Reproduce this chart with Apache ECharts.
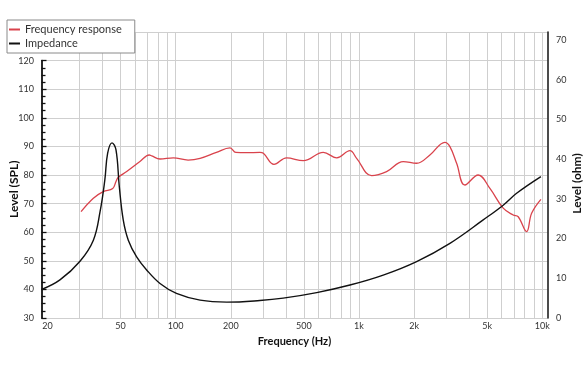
<!DOCTYPE html>
<html>
<head>
<meta charset="utf-8">
<script src="https://cdn.jsdelivr.net/npm/echarts@6/dist/echarts.min.js"></script>
<style>
html,body{margin:0;padding:0;background:#fff;}
#c{width:588px;height:372px;}
</style>
</head>
<body>
<div id="c"></div>
<script>
// Frequency response (dB SPL)
const freqSPL = [30.5, 35.6, 40.3, 45.4, 47.3, 48.7, 54.1, 63.9, 71.8, 74.1, 82.2, 97.1, 117, 136, 167, 198, 213, 244, 288, 301, 344, 403, 497, 639, 756, 893, 971, 1172, 1415, 1743, 2062, 2437, 2942, 3133, 3408, 3782, 4470, 5178, 6117, 6937, 7386, 8207, 8740, 9822];
const splValues = [67.2, 71.9, 74.2, 75.3, 77.7, 79.2, 81.2, 84.7, 87.0, 86.7, 85.6, 86.0, 85.2, 85.8, 87.9, 89.5, 87.9, 87.8, 87.9, 87.6, 83.7, 86.0, 85.0, 87.9, 86.0, 88.5, 85.8, 79.8, 81.2, 84.7, 84.1, 87.0, 91.4, 89.9, 84.1, 76.5, 80.0, 75.3, 68.4, 66.0, 65.4, 60.2, 66.6, 71.5];
// Impedance (ohm)
const freqZ = [18.6, 23.4, 30.1, 35.6, 38.7, 41.1, 42.6, 45.0, 47.3, 49.3, 51.8, 55.2, 61.3, 69.5, 82.2, 101, 136, 190, 288, 386, 588, 893, 1356, 2062, 3133, 4759, 6117, 7238, 9822];
const zValues = [7.2, 9.6, 14.3, 19.6, 26.7, 34.7, 41.5, 44.1, 42.3, 33.1, 24.7, 19.6, 15.4, 12.1, 8.7, 6.2, 4.5, 4.0, 4.4, 5.0, 6.4, 8.3, 10.8, 14.2, 18.8, 24.7, 28.4, 31.4, 35.6];
// Axis ticks
const xLabelValues = [20, 50, 100, 200, 500, 1000, 2000, 5000, 10000];
const xGridValues = [30, 40, 50, 60, 70, 80, 90, 100, 200, 300, 400, 500, 600, 700, 800, 900, 1000, 2000, 3000, 4000, 5000, 6000, 7000, 8000, 9000, 10000];
const xMin = 18.56, xMax = 10670;

const FONT = 'Lato';
const chart = echarts.init(document.getElementById('c'), null, {renderer: 'canvas'});

const option = {
  animation: false,
  backgroundColor: '#fff',
  textStyle: {fontFamily: FONT},
  grid: [
    {left: 41.5, right: 40.5, top: 32, bottom: 54, containLabel: false, outerBoundsMode: 'none'},
    {left: 41.5, right: 40.5, top: 60.6, bottom: 54, containLabel: false, outerBoundsMode: 'none'}
  ],
  legend: {
    data: ['Frequency response', 'Impedance'],
    orient: 'vertical',
    left: 7, top: 20,
    icon: 'rect', itemWidth: 11, itemHeight: 2, itemGap: 3,
    padding: [4, 13, 4, 2],
    backgroundColor: '#fff',
    borderColor: '#8a8a8a', borderWidth: 1,
    textStyle: {fontFamily: FONT, fontSize: 11, color: '#333'}
  },
  xAxis: [
    {
      type: 'log', gridIndex: 0, min: xMin, max: xMax,
      axisLine: {show: false}, axisTick: {show: false},
      splitLine: {show: false}, minorSplitLine: {show: false},
      axisLabel: {
        customValues: xLabelValues,
        fontFamily: FONT, fontSize: 9, color: '#333', margin: 4,
        formatter: v => v >= 1000 ? (v / 1000) + 'k' : String(v)
      },
      name: 'Frequency (Hz)', nameLocation: 'middle', nameGap: 18, nameMoveOverlap: false,
      nameTextStyle: {fontFamily: FONT, fontSize: 11, fontWeight: 'bold', color: '#111'}
    },
    {
      type: 'value', gridIndex: 1, min: 0, max: 1, show: false
    }
  ],
  yAxis: [
    {
      type: 'value', gridIndex: 0, min: 30, max: 130, interval: 10,
      axisLine: {show: false}, axisTick: {show: false}, axisLabel: {show: false},
      splitLine: {show: true, lineStyle: {color: '#cfcfcf', width: 1}}
    },
    {
      type: 'value', gridIndex: 0, position: 'right', min: 0, max: 72, interval: 10,
      axisLine: {show: true, lineStyle: {color: '#111', width: 1.5}},
      axisTick: {show: false},
      splitLine: {show: false},
      axisLabel: {
        fontFamily: FONT, fontSize: 9, color: '#333', margin: 8.5, showMaxLabel: false,
        formatter: v => (v % 10 === 0 ? String(v) : '')
      },
      name: 'Level (ohm)', nameLocation: 'middle', nameGap: 23.5, nameMoveOverlap: false,
      nameTextStyle: {fontFamily: FONT, fontSize: 12, fontWeight: 'bold', color: '#111', padding: [0, 17, 0, 0]}
    },
    {
      type: 'value', gridIndex: 1, min: 30, max: 120, interval: 10,
      axisLine: {show: true, lineStyle: {color: '#111', width: 1.8}},
      axisTick: {show: true, inside: true, length: 5, lineStyle: {color: '#111', width: 1.3}},
      minorTick: {show: true, splitNumber: 4, length: 4, lineStyle: {color: '#111', width: 1.3}},
      splitLine: {show: false},
      axisLabel: {fontFamily: FONT, fontSize: 9, color: '#333', margin: 7.5},
      name: 'Level (SPL)', nameLocation: 'middle', nameGap: 21.5, nameMoveOverlap: false,
      nameTextStyle: {fontFamily: FONT, fontSize: 12, fontWeight: 'bold', color: '#111'}
    }
  ],
  series: [
    {
      name: 'gridlines', type: 'line', xAxisIndex: 0, yAxisIndex: 0, data: [],
      silent: true, z: 1,
      markLine: {
        silent: true, symbol: 'none', z: 1, animation: false,
        label: {show: false},
        lineStyle: {color: '#cfcfcf', width: 1, type: 'solid'},
        emphasis: {disabled: true},
        data: xGridValues.map(v => ({xAxis: v}))
      }
    },
    {
      name: 'Frequency response', type: 'line', xAxisIndex: 0, yAxisIndex: 0,
      data: freqSPL.map((f, i) => [f, splValues[i]]),
      showSymbol: false, symbol: 'none', smooth: 0.4, z: 3,
      lineStyle: {color: '#d9434c', width: 1.3}, itemStyle: {color: '#d9434c'}
    },
    {
      name: 'Impedance', type: 'line', xAxisIndex: 0, yAxisIndex: 1,
      data: freqZ.map((f, i) => [f, zValues[i]]),
      showSymbol: false, symbol: 'none', smooth: 0.4, z: 3,
      lineStyle: {color: '#111', width: 1.4}, itemStyle: {color: '#111'}
    }
  ]
};
chart.setOption(option);
</script>
</body>
</html>
